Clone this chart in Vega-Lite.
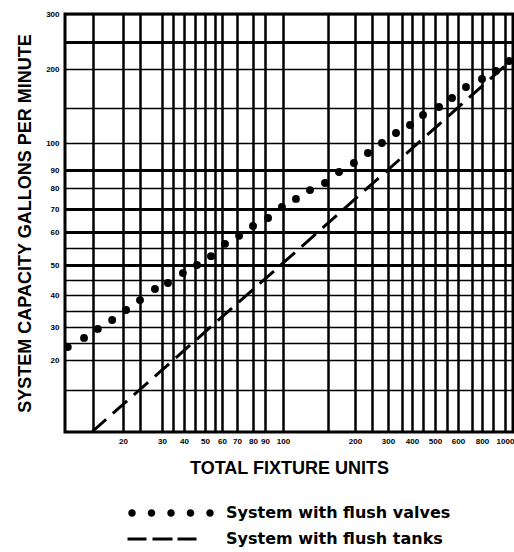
{
  "$schema": "https://vega.github.io/schema/vega-lite/v6.json",
  "width": 448,
  "height": 418,
  "autosize": {"type": "none"},
  "padding": {"left": 65, "top": 14, "right": 1, "bottom": 120},
  "background": "white",
  "view": {"stroke": "black", "strokeWidth": 3},
  "config": {"font": "Liberation Sans"},
  "data": {
    "values": [
      {"series": "System with flush valves", "fu": 10.5, "gpm": 23.8},
      {"series": "System with flush valves", "fu": 13.4, "gpm": 26.6},
      {"series": "System with flush valves", "fu": 15.8, "gpm": 29.4},
      {"series": "System with flush valves", "fu": 18.2, "gpm": 32.2},
      {"series": "System with flush valves", "fu": 20.9, "gpm": 35.3},
      {"series": "System with flush valves", "fu": 25, "gpm": 38.4},
      {"series": "System with flush valves", "fu": 28.4, "gpm": 42},
      {"series": "System with flush valves", "fu": 32.7, "gpm": 44},
      {"series": "System with flush valves", "fu": 39.5, "gpm": 47.3},
      {"series": "System with flush valves", "fu": 46, "gpm": 50},
      {"series": "System with flush valves", "fu": 53, "gpm": 52.6},
      {"series": "System with flush valves", "fu": 62, "gpm": 56.3},
      {"series": "System with flush valves", "fu": 71.3, "gpm": 58.8},
      {"series": "System with flush valves", "fu": 80, "gpm": 62.6},
      {"series": "System with flush valves", "fu": 91.7, "gpm": 66.1},
      {"series": "System with flush valves", "fu": 99.4, "gpm": 71},
      {"series": "System with flush valves", "fu": 114.4, "gpm": 74.8},
      {"series": "System with flush valves", "fu": 130, "gpm": 79},
      {"series": "System with flush valves", "fu": 146.7, "gpm": 82.8},
      {"series": "System with flush valves", "fu": 170.4, "gpm": 88.9},
      {"series": "System with flush valves", "fu": 198, "gpm": 92.6},
      {"series": "System with flush valves", "fu": 238, "gpm": 96.3},
      {"series": "System with flush valves", "fu": 281, "gpm": 100},
      {"series": "System with flush valves", "fu": 328.6, "gpm": 114.3},
      {"series": "System with flush valves", "fu": 390, "gpm": 125.7},
      {"series": "System with flush valves", "fu": 450, "gpm": 140},
      {"series": "System with flush valves", "fu": 516.7, "gpm": 151.3},
      {"series": "System with flush valves", "fu": 572.7, "gpm": 162.8},
      {"series": "System with flush valves", "fu": 657, "gpm": 176.9},
      {"series": "System with flush valves", "fu": 800, "gpm": 187.2},
      {"series": "System with flush valves", "fu": 925, "gpm": 197.4},
      {"series": "System with flush valves", "fu": 1030, "gpm": 214.8},
      {"series": "System with flush tanks", "fu": 14.8, "gpm": 10},
      {"series": "System with flush tanks", "fu": 118.9, "gpm": 55},
      {"series": "System with flush tanks", "fu": 1015, "gpm": 209.3}
    ]
  },
  "encoding": {
    "x": {
      "field": "fu",
      "type": "quantitative",
      "scale": {
        "domain": [10,15,20,25,30,35,40,45,50,55,60,70,80,90,100,150,200,250,300,350,400,450,500,550,600,700,800,900,1000,1060],
        "range": [0,28,58,75,97,108,119,130,140,150,157,172,188,200,218,263,290,307,323,337,347,358,370,382,393,407,417,428,440,448],
        "nice": false,
        "zero": false
      },
      "axis": {
        "values": [15,20,25,30,35,40,45,50,55,60,70,80,90,100,150,200,250,300,350,400,450,500,550,600,700,800,900,1000],
        "labelExpr": "(datum.value == 20 || datum.value == 30 || datum.value == 40 || datum.value == 50 || datum.value == 60 || datum.value == 70 || datum.value == 80 || datum.value == 90 || datum.value == 100 || datum.value == 200 || datum.value == 300 || datum.value == 400 || datum.value == 500 || datum.value == 600 || datum.value == 800 || datum.value == 1000) ? datum.label : ''",
        "format": "d",
        "grid": true,
        "gridColor": "black",
        "gridOpacity": 1,
        "gridWidth": 2.5,
        "ticks": false,
        "domain": false,
        "labelFont": "Liberation Sans",
        "labelFontSize": 8,
        "labelFontWeight": "bold",
        "labelColor": "black",
        "labelPadding": 5,
        "labelOverlap": false,
        "labelFlush": false,
        "title": "TOTAL FIXTURE UNITS",
        "titleFont": "Liberation Sans",
        "titleFontSize": 18,
        "titleFontWeight": "bold",
        "titleColor": "black",
        "titlePadding": 14
      }
    },
    "y": {
      "field": "gpm",
      "type": "quantitative",
      "scale": {
        "domain": [10,15,20,25,30,35,40,45,50,55,60,70,80,90,100,150,200,250,300],
        "range": [418,376,346,329,313,297,281,266,251,234,218,195,174,156,129,94,55,28,0],
        "nice": false,
        "zero": false
      },
      "axis": {
        "values": [15,20,25,30,35,40,45,50,55,60,70,80,90,100,150,200,250,300],
        "labelExpr": "(datum.value == 20 || datum.value == 30 || datum.value == 40 || datum.value == 50 || datum.value == 60 || datum.value == 70 || datum.value == 80 || datum.value == 90 || datum.value == 100 || datum.value == 200 || datum.value == 300) ? datum.label : ''",
        "format": "d",
        "grid": true,
        "gridColor": "black",
        "gridOpacity": 1,
        "gridWidth": {"condition": {"test": "datum.value == 250 || datum.value == 90 || datum.value == 70 || datum.value == 60 || datum.value == 50", "value": 3}, "value": 1.5},
        "ticks": false,
        "domain": false,
        "labelFont": "Liberation Sans",
        "labelFontSize": 8,
        "labelFontWeight": "bold",
        "labelColor": "black",
        "labelPadding": 6,
        "labelOverlap": false,
        "labelFlush": false,
        "title": "SYSTEM CAPACITY GALLONS PER MINUTE",
        "titleFont": "Liberation Sans",
        "titleFontSize": 18,
        "titleFontWeight": "bold",
        "titleColor": "black",
        "titlePadding": 11
      }
    }
  },
  "layer": [
    {
      "transform": [{"filter": "datum.series === 'System with flush valves'"}],
      "mark": {"type": "point", "filled": true, "shape": "circle", "size": 62, "color": "black", "opacity": 1}
    },
    {
      "transform": [{"filter": "datum.series === 'System with flush tanks'"}],
      "mark": {"type": "line", "color": "black", "strokeWidth": 3, "strokeDash": [19, 9]}
    },
    {
      "mark": {"type": "point", "filled": true, "color": "black", "opacity": 0},
      "encoding": {
        "shape": {
          "field": "series",
          "type": "nominal",
          "scale": {
            "domain": ["System with flush valves", "System with flush tanks"],
            "range": [
              "M -16.75,0 A 0.75,0.75 0 1,0 -15.25,0 A 0.75,0.75 0 1,0 -16.75,0 Z M -12.85,0 A 0.75,0.75 0 1,0 -11.35,0 A 0.75,0.75 0 1,0 -12.85,0 Z M -8.95,0 A 0.75,0.75 0 1,0 -7.45,0 A 0.75,0.75 0 1,0 -8.95,0 Z M -5.05,0 A 0.75,0.75 0 1,0 -3.55,0 A 0.75,0.75 0 1,0 -5.05,0 Z M -1.15,0 A 0.75,0.75 0 1,0 0.35,0 A 0.75,0.75 0 1,0 -1.15,0 Z",
              "M -16.9,-0.3 H -13.1 V 0.3 H -16.9 Z M -11.9,-0.3 H -7.9 V 0.3 H -11.9 Z M -6.9,-0.3 H -3.1 V 0.3 H -6.9 Z"
            ]
          },
          "legend": {
            "title": null,
            "orient": "none",
            "legendX": 139,
            "legendY": 491,
            "direction": "vertical",
            "padding": 0,
            "symbolSize": 100,
            "symbolOpacity": 1,
            "symbolFillColor": "black",
            "symbolStrokeColor": "black",
            "symbolStrokeWidth": 0,
            "labelFont": "DejaVu Sans",
            "labelFontSize": 16,
            "labelFontWeight": "bold",
            "labelColor": "black",
            "labelOffset": 6,
            "labelLimit": 400,
            "rowPadding": 10
          }
        }
      }
    }
  ]
}
